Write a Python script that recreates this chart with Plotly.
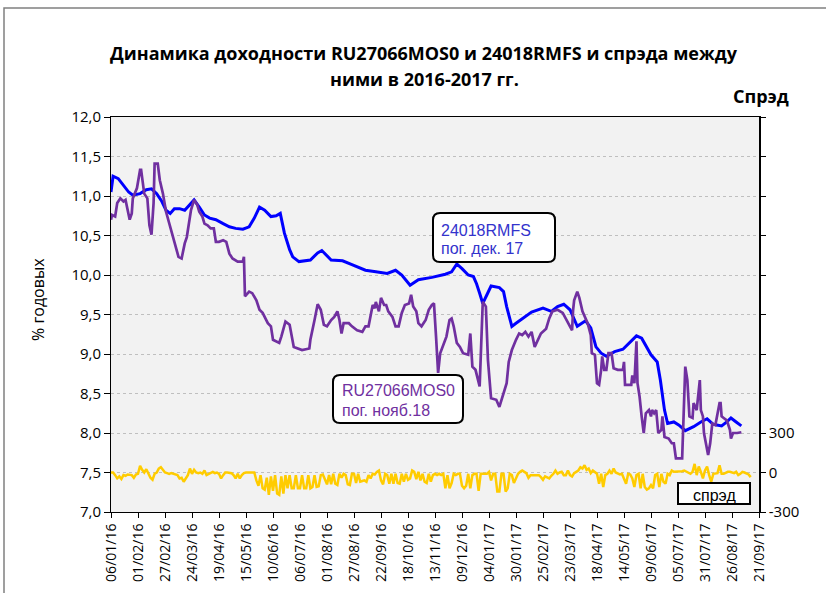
import pandas as pd
import plotly.graph_objects as go

BASE_DATE = "2016-01-06"

# 24018RMFS yield, % (day offset from 06/01/16)
ofz_days = [0, 2, 7, 12, 17, 21, 28, 34, 39, 44, 49, 53, 57, 61, 66, 71, 76, 80, 85, 90,
            95, 101, 108, 114, 120, 127, 133, 138, 143, 148, 154, 159, 163, 167, 172, 175, 181, 192, 199, 203,
            212, 223, 232, 245, 255, 266, 274, 280, 288, 296, 309, 322, 328, 333, 338, 344, 349, 352, 355, 358,
            362, 366, 374, 378, 381, 386, 390, 398, 405, 416, 424, 430, 436, 442, 449, 457, 462, 467, 472, 477,
            485, 493, 499, 506, 511, 515, 520, 526, 529, 533, 536, 542, 547, 553, 561, 568, 574, 580, 588, 593,
            597, 602, 607]
ofz_vals = [11.05, 11.25, 11.22, 11.14, 11.05, 11.01, 11.03, 11.08, 11.09, 11.03, 10.93, 10.82, 10.78, 10.84, 10.84, 10.82, 10.89, 10.95, 10.86, 10.76,
            10.72, 10.70, 10.65, 10.61, 10.59, 10.58, 10.61, 10.72, 10.86, 10.82, 10.74, 10.75, 10.78, 10.53, 10.32, 10.23, 10.17, 10.19, 10.28, 10.31,
            10.19, 10.18, 10.13, 10.06, 10.04, 10.02, 10.06, 10.00, 9.87, 9.94, 9.97, 10.01, 10.04, 10.14, 10.08, 10.00, 9.98, 9.89, 9.77, 9.64,
            9.75, 9.86, 9.84, 9.79, 9.60, 9.35, 9.39, 9.47, 9.53, 9.58, 9.54, 9.60, 9.63, 9.56, 9.35, 9.42, 9.33, 9.09, 9.01, 8.97,
            9.03, 9.06, 9.14, 9.23, 9.20, 9.11, 8.99, 8.90, 8.67, 8.29, 8.12, 8.14, 8.10, 8.03, 8.08, 8.14, 8.18, 8.11, 8.09, 8.14,
            8.19, 8.14, 8.09]

# RU27066MOS0 yield, %
ru_days = [0, 1, 4, 6, 9, 12, 14, 16, 18, 20, 21, 25, 28, 29, 32, 35, 37, 39, 41, 42,
           45, 47, 50, 53, 57, 60, 63, 65, 68, 71, 73, 76, 77, 80, 83, 85, 88, 90, 93, 96,
           99, 101, 104, 108, 111, 114, 117, 122, 127, 128, 129, 133, 136, 140, 143, 146, 151, 154, 156, 162,
           164, 168, 172, 176, 184, 191, 192, 196, 199, 202, 205, 208, 212, 215, 218, 220, 222, 224, 229, 232,
           237, 242, 245, 248, 252, 254, 255, 258, 260, 263, 265, 267, 271, 274, 277, 280, 283, 287, 289, 291,
           294, 296, 299, 303, 306, 309, 311, 313, 315, 317, 320, 323, 326, 328, 330, 333, 336, 339, 344, 346,
           348, 351, 355, 357, 358, 361, 363, 366, 371, 374, 378, 381, 383, 386, 390, 393, 396, 399, 402, 405,
           408, 411, 414, 419, 422, 425, 430, 435, 438, 442, 444, 445, 446, 449, 451, 454, 456, 459, 462, 463,
           466, 468, 470, 472, 473, 475, 477, 479, 482, 484, 488, 493, 494, 495, 501, 502, 504, 506, 507, 509,
           511, 513, 515, 518, 520, 521, 523, 525, 527, 530, 531, 533, 537, 540, 542, 544, 550, 553, 555, 557,
           560, 561, 564, 567, 568, 570, 571, 573, 575, 577, 579, 582, 586, 587, 588, 590, 593, 596, 597, 599,
           603, 607]
ru_vals = [10.70, 10.76, 10.74, 10.91, 10.97, 10.93, 10.95, 10.82, 10.70, 10.78, 10.97, 11.10, 11.33, 11.33, 11.03, 10.97, 10.63, 10.51, 10.91, 11.41,
           11.41, 11.20, 11.03, 10.80, 10.61, 10.48, 10.36, 10.23, 10.21, 10.40, 10.48, 10.76, 10.82, 10.95, 10.89, 10.80, 10.74, 10.65, 10.63, 10.59,
           10.59, 10.42, 10.42, 10.44, 10.42, 10.27, 10.21, 10.17, 10.17, 10.23, 9.73, 9.79, 9.77, 9.68, 9.56, 9.52, 9.39, 9.35, 9.18, 9.14,
           9.22, 9.41, 9.37, 9.09, 9.05, 9.07, 9.18, 9.43, 9.63, 9.56, 9.37, 9.35, 9.43, 9.47, 9.54, 9.43, 9.26, 9.39, 9.39, 9.35,
           9.30, 9.28, 9.35, 9.35, 9.62, 9.58, 9.66, 9.54, 9.71, 9.62, 9.62, 9.54, 9.47, 9.35, 9.35, 9.52, 9.62, 9.64, 9.75, 9.60,
           9.54, 9.39, 9.35, 9.43, 9.56, 9.62, 9.64, 9.22, 8.76, 9.01, 9.11, 9.22, 9.43, 9.45, 9.35, 9.14, 9.09, 9.01, 8.99, 9.26,
           8.84, 8.80, 8.59, 9.43, 9.66, 9.60, 8.92, 8.44, 8.42, 8.33, 8.50, 8.63, 8.90, 9.05, 9.18, 9.26, 9.24, 9.28, 9.22, 9.28,
           9.09, 9.18, 9.26, 9.32, 9.45, 9.54, 9.56, 9.52, 9.45, 9.35, 9.30, 9.56, 9.68, 9.79, 9.71, 9.54, 9.47, 9.39, 9.24, 9.01,
           8.99, 8.63, 8.61, 8.80, 8.97, 8.80, 8.80, 9.01, 9.01, 8.82, 8.80, 8.80, 8.90, 8.61, 8.61, 8.73, 8.63, 9.16, 8.63, 8.46,
           8.21, 8.00, 8.25, 8.29, 8.21, 8.29, 8.25, 8.29, 8.00, 8.04, 8.21, 7.95, 7.93, 7.87, 7.87, 7.68, 7.68, 8.84, 8.67, 8.21,
           8.19, 8.38, 8.29, 8.67, 8.29, 8.21, 8.00, 7.87, 7.72, 7.87, 8.12, 8.10, 8.38, 8.38, 8.21, 8.19, 8.16, 8.04, 7.93, 8.00,
           8.00, 8.01]

# spread, bp (one reading every 2 days from 06/01/16)
spread_step_days = 2
spread_vals = [
    0, 0, -20, -45, -30, -50, -20, -25, -15, -20,
    -20, -40, -15, -10, 50, 20, 0, 25, -5, -40,
    -55, -10, 0, 30, 40, 20, 0, -5, -10, -5,
    -10, -15, -20, -45, -40, -70, -45, -20, 30, -10,
    20, 0, -5, 0, -10, 15, -20, -10, -5, 5,
    -5, 0, -10, -45, -20, 0, 0, 0, -5, -20,
    -45, -10, -45, -20, -5, 0, 0, 0, 0, 0,
    -60, -100, -20, -120, -130, -40, -170, -30, -140, -20,
    -160, -170, -30, -160, -20, -120, -20, -120, -120, -20,
    -120, -120, -20, -120, -120, -20, -120, -110, -20, -110,
    -105, -20, -15,
    -50, -90, -20, -90, -10, -85, -95, -10, -40, -10,
    -20, -90, -95, -10, -10, -80, -10, -70, -65, -60,
    -70, -20, -45, -10, -15, 5, 15, -60, -90, -10,
    -20, -85, -10, -85, -10, -80, -85, -10, -70, -10,
    -55, -45, 15, 5, -50, 5, -60, -10, -70, -80,
    -10, -70, -20, -10, -20, -10, -20, -10, -120, -20,
    -120, -80, -10, -20, -10, -10, -100, -120, -100, -10,
    -120, -20, -10, -10, -140, -10, -10, -10, -10, 5,
    -60, -10, -10, -145, -145, -10, -10, -145, -120, -10,
    -20, -80, -40, -10, 5, 15, 5, -5, -40, -20,
    -20, -20, -20,
    -20, -35, -55, -30, -40, -45, -25, -10, 15, -10,
    0, 5, -20, -20, 15, -20, -30, -5, 5, 15,
    40, 30, 55, 20, 30, -5, 15, 0, -10, -85,
    -10, -110, -20, -10, 15, -10, 30, 0, -10, -15,
    -10, -45, -85, -10, -15, -45, -110, -20, -10, -120,
    -10, -110, -130, -120, -95, -120, -20, -10, -110, -10,
    -70, -85, -10, -20, 15, 5, 5, 5, 5, 10,
    15, 5, 0, -10, 5, 65, -20, 45, 5, -45,
    15, 45, -20, -70, -10, -10, -5, 55, -10, -10,
    0, 5, 5, 0, -5, 5, -20, -10, 5, 0,
    -10, -15, -35,
]

left_ticks = [7.0, 7.5, 8.0, 8.5, 9.0, 9.5, 10.0, 10.5, 11.0, 11.5, 12.0]
right_tickvals = [-300, 0, 300, 600, 900, 1200, 1500, 1800, 2100, 2400, 2700]
right_ticktext = ["-300", "0", "300", "", "", "", "", "", "", "", ""]

title_line1 = "Динамика доходности RU27066MOS0 и 24018RMFS и спрэда между"
title_line2 = "ними в 2016-2017 гг."

base = pd.Timestamp(BASE_DATE)
ofz_x = base + pd.to_timedelta(ofz_days, unit="D")
ru_x = base + pd.to_timedelta(ru_days, unit="D")
spread_x = pd.date_range(base, periods=len(spread_vals), freq=f"{spread_step_days}D")

FONT = "Open Sans"
fig = go.Figure()
fig.add_trace(go.Scatter(x=spread_x, y=spread_vals, mode="lines", yaxis="y2",
                         line=dict(color="#FFCC00", width=2.5), name="спрэд"))
fig.add_trace(go.Scatter(x=ofz_x, y=ofz_vals, mode="lines",
                         line=dict(color="#0000FF", width=3), name="24018RMFS"))
fig.add_trace(go.Scatter(x=ru_x, y=ru_vals, mode="lines",
                         line=dict(color="#7030A0", width=2.7), name="RU27066MOS0"))

L, R, T, B = 111, 67, 117, 81
W, H = 826, 593
pw, ph = W - L - R, H - T - B


def px(x):
    return (x - L) / pw


def py(y):
    return (H - B - y) / ph


def rounded(x0, y0, x1, y1, r):
    rx, ry = r / pw, r / ph
    a, b, c, d = px(x0), px(x1), py(y1), py(y0)
    return (f"M {a+rx},{d} L {b-rx},{d} Q {b},{d} {b},{d-ry} L {b},{c+ry} "
            f"Q {b},{c} {b-rx},{c} L {a+rx},{c} Q {a},{c} {a},{c+ry} L {a},{d-ry} Q {a},{d} {a+rx},{d} Z")


shapes = [
    dict(type="rect", xref="paper", yref="paper", x0=px(4), y0=-0.4, x1=1.3, y1=py(8),
         line=dict(color="#808080", width=1.5), fillcolor="rgba(0,0,0,0)", layer="below"),
    dict(type="path", xref="paper", yref="paper", path=rounded(433, 213, 555, 262, 7),
         line=dict(color="black", width=2), fillcolor="white"),
    dict(type="path", xref="paper", yref="paper", path=rounded(333, 375, 463, 423, 7),
         line=dict(color="black", width=2), fillcolor="white"),
    dict(type="rect", xref="paper", yref="paper", x0=px(678), y0=py(504), x1=px(750), y1=py(483),
         line=dict(color="black", width=2), fillcolor="white"),
]

ann_font = "Liberation Sans, Arial"
annotations = [
    dict(x=px(424), y=py(53), text=f"<b>{title_line1}</b>", showarrow=False, xref="paper", yref="paper",
         xanchor="center", yanchor="middle", font=dict(family=FONT, size=18, color="black")),
    dict(x=px(424), y=py(79), text=f"<b>{title_line2}</b>", showarrow=False, xref="paper", yref="paper",
         xanchor="center", yanchor="middle", font=dict(family=FONT, size=18, color="black")),
    dict(x=px(791), y=py(96), text="<b>Спрэд</b>", showarrow=False, xref="paper", yref="paper",
         xanchor="right", yanchor="middle", font=dict(family=FONT, size=18, color="black")),
    dict(x=px(38), y=py(300), text="% годовых", textangle=-90, showarrow=False, xref="paper", yref="paper",
         xanchor="center", yanchor="middle", font=dict(family=FONT, size=16, color="black")),
    dict(x=px(439), y=py(230), text="24018RMFS", showarrow=False, xref="paper", yref="paper",
         xanchor="left", yanchor="middle", font=dict(family=ann_font, size=16, color="#3333CC")),
    dict(x=px(439), y=py(248), text="пог. дек. 17", showarrow=False, xref="paper", yref="paper",
         xanchor="left", yanchor="middle", font=dict(family=ann_font, size=16, color="#3333CC")),
    dict(x=px(340), y=py(391), text="RU27066MOS0", showarrow=False, xref="paper", yref="paper",
         xanchor="left", yanchor="middle", font=dict(family=ann_font, size=16, color="#7030A0")),
    dict(x=px(340), y=py(410), text="пог. нояб.18", showarrow=False, xref="paper", yref="paper",
         xanchor="left", yanchor="middle", font=dict(family=ann_font, size=16, color="#7030A0")),
    dict(x=px(714), y=py(495), text="спрэд", showarrow=False, xref="paper", yref="paper",
         xanchor="center", yanchor="middle", font=dict(family=ann_font, size=16, color="black")),
]

fig.update_layout(
    width=W, height=H, autosize=False,
    margin=dict(l=L, r=R, t=T, b=B, pad=0, autoexpand=False),
    paper_bgcolor="white", plot_bgcolor="#F2F2F2",
    separators=", ",
    showlegend=False,
    font=dict(family=FONT, size=14, color="black"),
    xaxis=dict(type="date", range=["2016-01-06", "2017-09-21"], tick0="2016-01-06",
               dtick=26 * 86400000, tickformat="%d/%m/%y", tickangle=-90, automargin=False,
               ticks="outside", ticklen=5, tickcolor="black", showline=True, linecolor="black",
               linewidth=1, mirror=True, showgrid=False, zeroline=False,
               tickfont=dict(family=FONT, size=14)),
    yaxis=dict(range=[7, 12], tickvals=left_ticks, tickformat=".1f", ticks="outside", ticklen=6,
               tickcolor="black", showline=True, linecolor="black", linewidth=1, automargin=False,
               showgrid=True, gridcolor="#BFBFBF", griddash="dot", gridwidth=1, zeroline=False,
               tickfont=dict(family=FONT, size=15)),
    yaxis2=dict(range=[-300, 2700], overlaying="y", side="right", tickvals=right_tickvals,
                ticktext=right_ticktext, ticks="outside", ticklen=5, tickcolor="black", automargin=False,
                showline=True, linecolor="black", linewidth=1.5, showgrid=False, zeroline=False,
                tickfont=dict(family=FONT, size=15)),
    shapes=shapes,
    annotations=annotations,
)

fig.write_html("out.html", config={"displayModeBar": False},
               post_script="document.body.style.margin='0px';document.body.style.overflow='hidden';")
